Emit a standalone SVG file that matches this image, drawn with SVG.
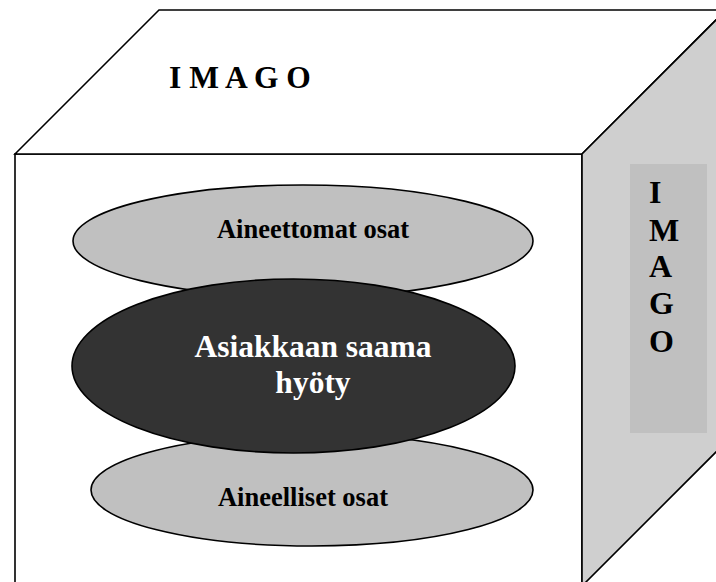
<svg xmlns="http://www.w3.org/2000/svg" width="716" height="582" viewBox="0 0 716 582">
  <style>
    .edge { stroke: #000; stroke-width: 1.6; stroke-linejoin: miter; }
    .light { fill: #c0c0c0; stroke: #000; stroke-width: 1.6; }
    .dark { fill: #333333; stroke: #000; stroke-width: 1.6; }
    .lbl { font-family: "Liberation Serif", "Times New Roman", serif; font-weight: bold; }
  </style>

  <!-- cube -->
  <g id="cube">
    <rect id="front-face" class="edge" x="15" y="154" width="567" height="440" fill="#fff"/>
    <polygon id="top-face" class="edge" points="15,154 159,10 726,10 582,154" fill="#fff"/>
    <polygon id="side-face" class="edge" points="582,154 726,10 726,442 582,586" fill="#cfcfcf"/>
    <rect id="side-panel" x="630" y="164" width="77" height="269" fill="#c0c0c0"/>
  </g>

  <g id="top-label">
    <text class="lbl" x="169" y="88" font-size="31.5">I M A G O</text>
  </g>

  <g id="side-label" class="lbl" font-size="32">
    <text x="649" y="203">I</text>
    <text x="649" y="241">M</text>
    <text x="649" y="277">A</text>
    <text x="649" y="314">G</text>
    <text x="649" y="352">O</text>
  </g>

  <!-- layered benefit ellipses -->
  <g id="intangible">
    <ellipse class="light" cx="303" cy="241" rx="230" ry="56"/>
    <text class="lbl" x="313" y="238" font-size="26.5" text-anchor="middle">Aineettomat osat</text>
  </g>

  <g id="tangible">
    <ellipse class="light" cx="312" cy="490" rx="221" ry="56"/>
    <text class="lbl" x="303" y="506" font-size="26.5" text-anchor="middle">Aineelliset osat</text>
  </g>

  <g id="benefit">
    <ellipse class="dark" cx="293.5" cy="366" rx="221.5" ry="87"/>
    <text class="lbl" x="313" y="357" font-size="31.5" fill="#fff" text-anchor="middle">Asiakkaan saama</text>
    <text class="lbl" x="313" y="393" font-size="31.5" fill="#fff" text-anchor="middle">hyöty</text>
  </g>

  <g id="connectors"/>
</svg>
